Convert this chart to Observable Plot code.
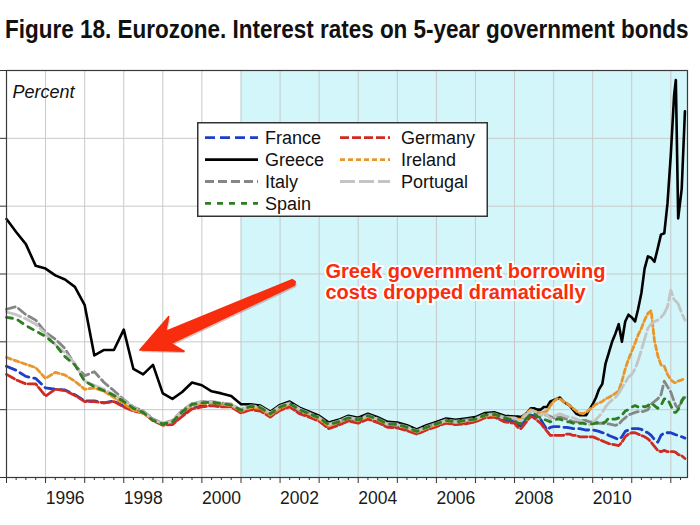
<!DOCTYPE html>
<html><head><meta charset="utf-8">
<script src="https://cdn.jsdelivr.net/npm/d3@7"></script>
<script src="https://cdn.jsdelivr.net/npm/@observablehq/plot@0.6"></script>
<style>
body{margin:0;background:#fff;font-family:"Liberation Sans",Arial,sans-serif;}
#wrap{position:relative;width:700px;height:525px;overflow:hidden;}
#title{position:absolute;left:0;top:0;}
#chart{position:absolute;left:0;top:58px;}
#legend{position:absolute;left:197px;top:122px;}
</style></head>
<body><div id="wrap"><div id="title"></div><div id="chart"></div><div id="legend"></div></div>
<script>
const titleText = "Figure 18. Eurozone. Interest rates on 5-year government bonds";
const unitLabel = "Percent";
const annotationText = "Greek government borrowing\ncosts dropped dramatically";

const seriesNames = ["France","Germany","Greece","Ireland","Italy","Portugal","Spain"];
const seriesColors = ["#1c3fc6","#cf2b22","#000000","#e8962c","#868686","#c4c4c4","#2e7d20"];
const seriesDash = ["10,5","9,3","none","5,3","9,4","15,4","6,6"];
const seriesWidth = [2.8,2.8,2.6,2.8,2.8,2.8,2.8];

const dates = [
 "1995-01-01","1995-04-01","1995-07-01","1995-10-01","1996-01-01","1996-04-01","1996-07-01","1996-10-01",
 "1997-01-01","1997-04-01","1997-07-01","1997-10-01","1998-01-01","1998-04-01","1998-07-01","1998-10-01",
 "1999-01-01","1999-04-01","1999-07-01","1999-10-01","2000-01-01","2000-04-01","2000-07-01","2000-10-01",
 "2001-01-01","2001-04-01","2001-07-01","2001-10-01","2002-01-01","2002-04-01","2002-07-01","2002-10-01",
 "2003-01-01","2003-04-01","2003-07-01","2003-10-01","2004-01-01","2004-04-01","2004-07-01","2004-10-01",
 "2005-01-01","2005-04-01","2005-07-01","2005-10-01","2006-01-01","2006-04-01","2006-07-01","2006-10-01",
 "2007-01-01","2007-04-01","2007-07-01","2007-10-01",
 "2008-01-01","2008-02-01","2008-03-01","2008-04-01","2008-05-01","2008-06-01","2008-07-01","2008-08-01","2008-09-01","2008-10-01","2008-11-01","2008-12-01",
 "2009-01-01","2009-02-01","2009-03-01","2009-04-01","2009-05-01","2009-06-01","2009-07-01","2009-08-01","2009-09-01","2009-10-01","2009-11-01","2009-12-01",
 "2010-01-01","2010-02-01","2010-03-01","2010-04-01","2010-05-01","2010-06-01","2010-07-01","2010-08-01","2010-09-01","2010-10-01","2010-11-01","2010-12-01",
 "2011-01-01","2011-02-01","2011-03-01","2011-04-01","2011-05-01","2011-06-01","2011-07-01","2011-08-01","2011-09-01","2011-10-01","2011-11-01","2011-12-01",
 "2012-01-01","2012-02-01","2012-02-17","2012-03-10","2012-04-12","2012-05-12"
];

const france = [
 8.2,7.9,7.45,7.3, 6.6,6.5,6.45,6.1, 5.65,5.65,5.5,5.65, 5.25,4.95,4.8,4.3,
 3.95,4.0,4.6,5.15, 5.3,5.4,5.3,5.25, 4.8,5.1,5.0,4.55, 5.05,5.3,4.85,4.55,
 4.25,3.75,3.95,4.25, 4.1,4.4,4.15,3.8, 3.75,3.55,3.25,3.55, 3.8,4.05,3.95,4.05,
 4.15,4.45,4.5,4.25,
 4.1,3.85,3.8,4.1,4.35,4.6,4.55,4.4,4.3,3.9,3.5,3.7,
 3.75,3.75,3.75,3.7,3.7,3.65,3.6,3.6,3.6,3.55,3.5,3.5,
 3.5,3.45,3.4,3.3,3.25,3.1,3.0,2.9,2.8,3.0,3.4,3.5,
 3.6,3.6,3.6,3.55,3.4,3.3,3.1,2.8,2.6,3.1,3.3,3.3,
 3.3,3.2,3.15,3.1,3.0,2.9
];
const germany = [
 7.6,7.2,6.9,6.9, 6.0,6.5,6.4,6.05, 5.6,5.6,5.5,5.6, 5.2,4.9,4.75,4.2,
 3.85,3.9,4.5,5.05, 5.2,5.3,5.2,5.2, 4.75,5.0,4.9,4.45, 4.95,5.2,4.7,4.45,
 4.15,3.6,3.85,4.15, 4.0,4.3,4.05,3.7, 3.65,3.45,3.2,3.5, 3.75,4.0,3.9,3.95,
 4.1,4.4,4.45,4.1,
 4.0,3.7,3.6,3.9,4.2,4.5,4.4,4.2,4.0,3.7,3.4,3.1,
 3.1,3.1,3.1,3.1,3.2,3.2,3.1,3.1,3.0,3.0,3.0,3.0,
 3.0,2.9,2.8,2.7,2.6,2.5,2.45,2.4,2.35,2.6,3.0,3.2,
 3.3,3.3,3.2,3.1,3.0,2.85,2.6,2.3,2.0,1.9,2.0,1.9,
 1.9,1.9,1.85,1.7,1.6,1.4
];
const greece = [
 19.05,18.1,17.2,15.6, 15.4,14.9,14.6,14.05, 12.7,9.0,9.4,9.4, 10.9,8.0,7.6,8.3,
 6.2,5.8,6.3,7.0, 6.8,6.35,6.2,6.0, 5.4,5.4,5.3,4.85, 5.35,5.6,5.15,4.85,
 4.55,4.05,4.25,4.55, 4.4,4.7,4.45,4.1, 4.05,3.85,3.55,3.85, 4.1,4.35,4.25,4.35,
 4.45,4.75,4.8,4.55,
 4.5,4.5,4.45,4.6,4.8,5.1,5.1,5.0,5.0,5.2,5.2,5.6,
 5.7,5.8,5.9,5.6,5.45,5.3,5.0,4.7,4.6,4.6,4.6,5.0,
 5.4,5.9,6.5,6.9,8.4,9.2,10.0,10.6,11.3,10.0,11.5,12.0,
 11.8,11.5,12.4,13.6,15.4,16.3,16.2,15.9,16.9,17.9,18.0,20.2,
 23.8,28.2,29.3,19.1,21.3,27.0
];
const ireland = [
 8.85,8.6,8.35,8.1, 7.3,7.75,7.55,7.1, 6.5,6.6,6.35,5.9, 5.45,4.95,4.75,4.25,
 3.95,4.1,4.8,5.3, 5.45,5.5,5.4,5.3, 4.9,5.15,5.1,4.6, 5.1,5.4,4.95,4.65,
 4.3,3.8,4.05,4.35, 4.2,4.5,4.25,3.9, 3.85,3.65,3.35,3.65, 3.9,4.15,4.05,4.15,
 4.25,4.55,4.6,4.4,
 4.4,4.3,4.3,4.6,4.8,5.0,4.9,4.8,4.8,4.8,4.9,5.3,
 5.6,5.8,5.8,5.6,5.5,5.3,5.1,4.9,4.75,4.7,4.8,5.0,
 5.2,5.4,5.5,5.6,5.8,5.9,6.05,6.2,6.4,7.1,8.0,8.7,
 9.3,9.9,10.5,11.0,11.6,12.1,12.3,10.1,9.0,8.3,8.2,7.6,
 7.2,7.0,7.0,7.1,7.2,7.3
];
const italy = [
 12.4,12.6,12.0,11.6, 10.7,10.2,9.5,8.3, 7.5,7.8,7.0,6.4, 5.75,5.2,4.9,4.3,
 4.0,4.2,4.95,5.45, 5.6,5.6,5.5,5.4, 5.0,5.3,5.2,4.75, 5.25,5.5,5.05,4.75,
 4.45,3.95,4.15,4.45, 4.3,4.6,4.35,4.0, 3.95,3.75,3.45,3.75, 4.0,4.25,4.15,4.25,
 4.35,4.65,4.7,4.45,
 4.3,4.1,4.1,4.4,4.6,4.9,4.9,4.7,4.6,4.6,4.6,4.5,
 4.4,4.45,4.45,4.4,4.3,4.2,4.1,4.1,4.1,4.2,4.2,4.1,
 4.1,4.1,4.0,4.0,3.95,3.95,3.9,3.85,3.9,4.2,4.4,4.6,
 4.7,4.8,4.85,4.85,4.9,5.0,5.4,5.6,5.8,6.1,7.1,6.7,
 6.3,5.6,5.3,5.1,5.7,5.9
];
const portugal = [
 12.2,12.0,11.7,11.3, 10.6,9.8,9.2,8.4, 7.1,6.8,6.5,6.1, 5.7,5.15,4.85,4.25,
 4.0,4.15,4.9,5.45, 5.55,5.6,5.5,5.4, 4.95,5.25,5.2,4.75, 5.25,5.45,5.05,4.7,
 4.4,3.9,4.15,4.45, 4.25,4.55,4.3,3.95, 3.9,3.7,3.4,3.7, 3.95,4.2,4.1,4.2,
 4.3,4.6,4.65,4.4,
 4.4,4.2,4.2,4.5,4.7,4.9,4.9,4.7,4.6,4.7,4.6,4.3,
 4.5,4.6,4.7,4.6,4.5,4.45,4.4,4.3,4.2,4.1,3.9,3.9,
 4.0,4.3,4.5,4.8,5.2,5.5,5.7,5.9,6.2,6.6,7.0,7.4,
 7.6,8.0,8.6,9.4,10.2,11.0,11.3,11.5,11.6,11.8,12.1,12.6,
 13.8,13.1,13.0,12.8,12.1,11.6
];
const spain = [
 11.8,11.7,11.2,10.8, 10.4,9.8,8.9,8.3, 7.1,6.7,6.4,6.05, 5.6,5.1,4.8,4.2,
 3.95,4.1,4.85,5.4, 5.5,5.55,5.45,5.35, 4.95,5.25,5.15,4.7, 5.2,5.45,5.0,4.7,
 4.4,3.9,4.1,4.4, 4.25,4.55,4.3,3.95, 3.9,3.7,3.4,3.7, 3.95,4.2,4.1,4.2,
 4.3,4.6,4.65,4.4,
 4.2,4.0,3.95,4.2,4.4,4.7,4.7,4.5,4.4,4.3,4.2,4.1,
 4.2,4.3,4.3,4.2,4.1,4.1,4.0,4.0,4.0,4.0,3.95,3.95,
 3.95,4.0,4.0,4.0,4.1,4.4,4.3,4.3,4.4,4.6,4.9,5.0,
 5.2,5.3,5.2,5.3,5.2,5.3,5.5,5.3,5.1,5.3,5.8,5.8,
 5.3,4.8,4.8,5.0,5.6,6.1
];
const seriesValues = [france, germany, greece, ireland, italy, portugal, spain];

const yTicks = [0,5,10,15,20,25,30];
const yearTicks = ["1995","1996","1997","1998","1999","2000","2001","2002","2003","2004","2005","2006","2007","2008","2009","2010","2011","2012"];
const labelYears = ["1996","1998","2000","2002","2004","2006","2008","2010"];
const xStart = "1995-01-01", xEnd = "2012-06-05";
const euroShade = [{from: "2001-01-01", to: "2012-06-05"}];
const annotation = [{date: "2003-03-01", value: 15.8}];
const arrowSpec = [{tailDate: "2002-05-10", tailValue: 14.35, tipDate: "1998-06-05", tipValue: 9.36}];

// ---------- build ----------
const D = s => new Date(s + (s.length === 4 ? "-01-01" : "") + "T00:00:00Z");
const rows = [];
seriesNames.forEach((name, k) => {
  dates.forEach((d, i) => rows.push({series: name, date: D(d), value: seriesValues[k][i]}));
});
const yearDates = yearTicks.map(D);
const quarterDates = [];
yearTicks.forEach(y => ["04","07","10"].forEach(m => { const d = D(y + "-" + m + "-01"); if (d < D(xEnd)) quarterDates.push(d); }));
const labelDates = labelYears.map(y => D(y + "-07-02"));

function arrowMark(...args) {
  const scales = args.find(a => a && typeof a.x === "function" && typeof a.y === "function");
  const a = arrowSpec[0];
  const tx = scales.x(D(a.tailDate)), ty = scales.y(a.tailValue);
  const px = scales.x(D(a.tipDate)), py = scales.y(a.tipValue);
  const L = Math.hypot(tx - px, ty - py);
  const ux = (tx - px) / L, uy = (ty - py) / L;
  const nx = -uy, ny = ux;
  const P = (al, pe) => [px + ux * al + nx * pe, py + uy * al + ny * pe];
  const pts = [P(0,0), P(40,19), P(31,6.5), P(L,3), P(L+2,0), P(L,-3), P(31,-6.5), P(40,-19)];
  const ns = "http://www.w3.org/2000/svg";
  const g = document.createElementNS(ns, "g");
  const sh = document.createElementNS(ns, "polygon");
  sh.setAttribute("points", pts.map(p => (p[0]+1.5) + "," + (p[1]+2)).join(" "));
  sh.setAttribute("fill", "rgba(120,20,0,0.25)");
  const poly = document.createElementNS(ns, "polygon");
  poly.setAttribute("points", pts.map(p => p.join(",")).join(" "));
  poly.setAttribute("fill", "#f82d0d");
  poly.setAttribute("stroke", "#f82d0d");
  poly.setAttribute("stroke-width", "1.5");
  poly.setAttribute("stroke-linejoin", "round");
  g.appendChild(sh); g.appendChild(poly);
  return g;
}

const lineMarks = seriesNames.map((name, k) => Plot.line(rows.filter(r => r.series === name), {
  x: "date", y: "value", stroke: seriesColors[k], strokeWidth: seriesWidth[k],
  strokeDasharray: seriesDash[k] === "none" ? null : seriesDash[k], strokeLinejoin: "round"
}));

const chart = Plot.plot({
  width: 700, height: 467,
  marginLeft: 6, marginRight: 13, marginTop: 12, marginBottom: 48,
  style: {fontFamily: "'Liberation Sans', Arial, sans-serif", background: "transparent", color: "#222"},
  x: {type: "utc", domain: [D(xStart), D(xEnd)], axis: null, label: null},
  y: {domain: [0, 30], axis: null, label: null},
  marks: [
    Plot.rect(euroShade, {x1: d => D(d.from), x2: d => D(d.to), y1: () => 0, y2: () => 30, fill: "#d3f6fa"}),
    Plot.gridX(yearDates, {stroke: "#c9c9c9", strokeOpacity: 1, strokeWidth: 1}),
    Plot.gridY(yTicks, {stroke: "#c9c9c9", strokeOpacity: 1, strokeWidth: 1}),
    ...lineMarks,
    Plot.frame({stroke: "#3a3a3a", strokeWidth: 1.2}),
    Plot.axisX(yearDates, {tickSize: 6, tickFormat: () => "", stroke: "#333", label: null}),
    Plot.axisX(quarterDates, {tickSize: 3, tickFormat: () => "", stroke: "#333", label: null}),
    Plot.axisY(yTicks, {tickSize: 6, tickFormat: () => "", stroke: "#333", label: null}),
    Plot.text(labelYears, {x: (d, i) => labelDates[i], frameAnchor: "bottom", dy: 26, text: d => d, fontSize: 17.5, fill: "#1a1a1a"}),
    Plot.text([unitLabel], {frameAnchor: "top-left", dx: 6, dy: 15, text: d => d, textAnchor: "start", lineAnchor: "top", fontSize: 18, fontStyle: "italic", fill: "#111"}),
    arrowMark,
    Plot.text(annotation, {x: d => D(d.date), y: "value", text: () => annotationText, textAnchor: "start", lineAnchor: "top", lineHeight: 1.05,
      fontSize: 20, fontWeight: "bold", fill: "#f82d0d", stroke: "white", strokeWidth: 4, strokeLinejoin: "round"})
  ]
});
document.getElementById("chart").appendChild(chart);

// title (bold, horizontally condensed to span the chart width)
const ns = "http://www.w3.org/2000/svg";
const tsvg = document.createElementNS(ns, "svg");
tsvg.setAttribute("width", 700); tsvg.setAttribute("height", 58);
const tt = document.createElementNS(ns, "text");
tt.setAttribute("x", 0); tt.setAttribute("y", 0);
tt.setAttribute("font-family", "'Liberation Sans', Arial, sans-serif");
tt.setAttribute("font-weight", "bold"); tt.setAttribute("font-size", 26); tt.setAttribute("fill", "#111");
tt.textContent = titleText;
tsvg.appendChild(tt);
document.getElementById("title").appendChild(tsvg);
const natural = tt.getComputedTextLength();
const sx = 684 / natural;
tt.setAttribute("transform", "translate(5,38) scale(" + sx + ",1)");

// legend
const lw = 291, lh = 95;
const lsvg = document.createElementNS(ns, "svg");
lsvg.setAttribute("width", lw); lsvg.setAttribute("height", lh);
const box = document.createElementNS(ns, "rect");
box.setAttribute("x", 0.75); box.setAttribute("y", 0.75); box.setAttribute("width", lw - 1.5); box.setAttribute("height", lh - 1.5);
box.setAttribute("fill", "white"); box.setAttribute("stroke", "#333"); box.setAttribute("stroke-width", 1.5);
lsvg.appendChild(box);
const legendOrder = ["France","Germany","Greece","Ireland","Italy","Portugal","Spain"];
legendOrder.forEach((name, i) => {
  const k = seriesNames.indexOf(name);
  const col = i % 2, row = Math.floor(i / 2);
  const cy = 15.7 + row * 21.9;
  const x0 = col === 0 ? 8 : 143, x1 = col === 0 ? 61 : 193, tx = col === 0 ? 68 : 204;
  const ln = document.createElementNS(ns, "line");
  ln.setAttribute("x1", x0); ln.setAttribute("x2", x1); ln.setAttribute("y1", cy); ln.setAttribute("y2", cy);
  ln.setAttribute("stroke", seriesColors[k]); ln.setAttribute("stroke-width", 2.8);
  if (seriesDash[k] !== "none") ln.setAttribute("stroke-dasharray", seriesDash[k]);
  lsvg.appendChild(ln);
  const t = document.createElementNS(ns, "text");
  t.setAttribute("x", tx); t.setAttribute("y", cy + 6.3);
  t.setAttribute("font-family", "'Liberation Sans', Arial, sans-serif"); t.setAttribute("font-size", 18); t.setAttribute("fill", "#111");
  t.textContent = name;
  lsvg.appendChild(t);
});
document.getElementById("legend").appendChild(lsvg);
</script></body></html>
